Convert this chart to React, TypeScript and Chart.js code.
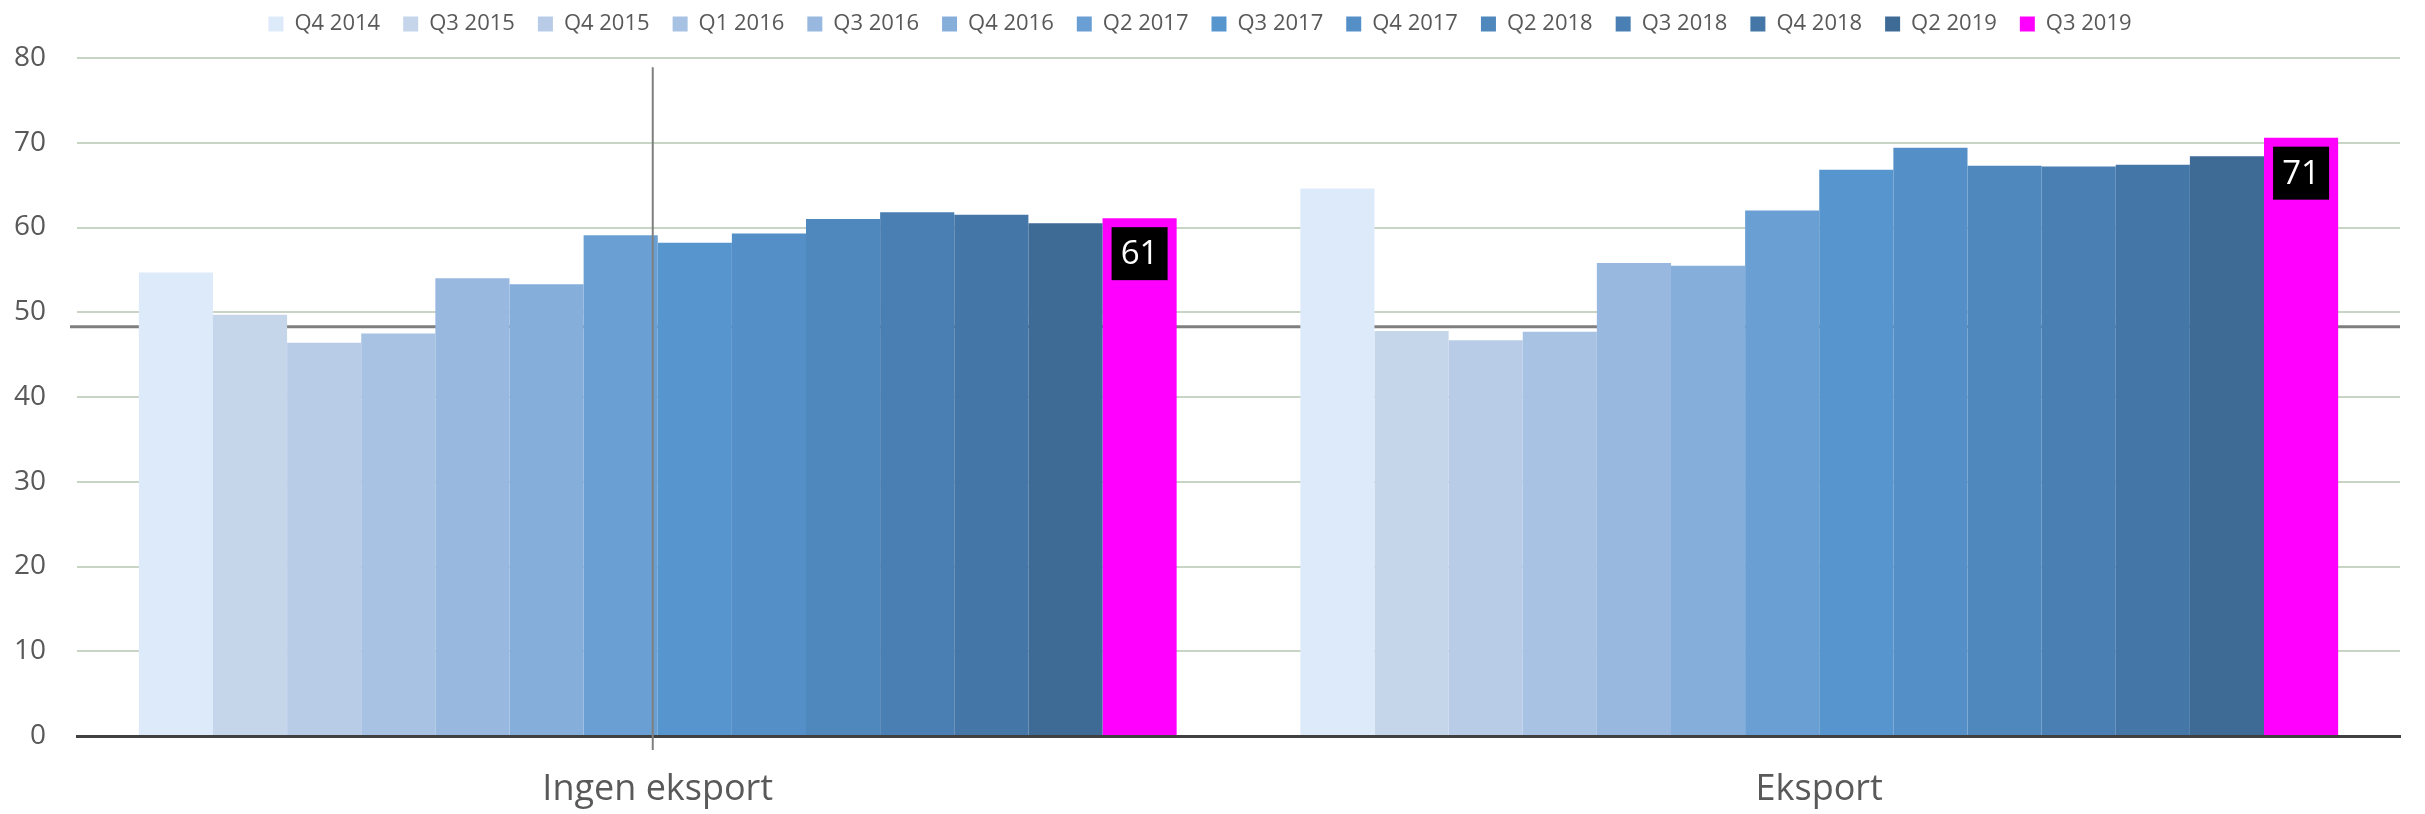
import React, { useEffect, useRef } from "react";
import { Chart, registerables } from "chart.js";

Chart.register(...registerables);

const categories = ["Ingen eksport", "Eksport"];
const seriesLabels = [
  "Q4 2014", "Q3 2015", "Q4 2015", "Q1 2016", "Q3 2016", "Q4 2016", "Q2 2017",
  "Q3 2017", "Q4 2017", "Q2 2018", "Q3 2018", "Q4 2018", "Q2 2019", "Q3 2019",
];
const ingenEksport = [54.7, 49.7, 46.4, 47.5, 54.0, 53.3, 59.1, 58.2, 59.3, 61.0, 61.8, 61.5, 60.5, 61.1];
const eksport = [64.6, 47.8, 46.7, 47.7, 55.8, 55.5, 62.0, 66.8, 69.4, 67.3, 67.2, 67.4, 68.4, 70.6];
const seriesColors = [
  "#DDEAFA", "#C5D5EA", "#B8CCE8", "#A8C2E3", "#98B8DF", "#86AEDB", "#6A9FD4",
  "#5795CE", "#548FC7", "#4F88BC", "#497FB2", "#4477A7", "#3E6A96", "#FF00FF",
];
const yMin = 0;
const yMax = 80;
const yStep = 10;
const referenceLevel = 48.3;
const verticalMarkerTop = 78.9;
const labelledSeries = "Q3 2019";

const FONT = '"Open Sans", "DejaVu Sans", sans-serif';

const legendSpacer = {
  id: "legendSpacer",
  beforeLayout(chart: any) {
    const lg = chart.legend;
    if (lg && !lg._spacerPatched) {
      const orig = lg.fit.bind(lg);
      lg.fit = function () {
        orig();
        this.height += 13;
      };
      lg._spacerPatched = true;
    }
  },
};

const overlayPlugin = {
  id: "overlayLines",
  beforeDatasetsDraw(chart: any) {
    const { ctx, chartArea, scales } = chart;
    const y = scales.y.getPixelForValue(referenceLevel);
    ctx.save();
    ctx.strokeStyle = "#7F7F7F";
    ctx.lineWidth = 3;
    ctx.beginPath();
    ctx.moveTo(chartArea.left - 7, y);
    ctx.lineTo(chartArea.right, y);
    ctx.stroke();
    ctx.restore();
  },
  afterDatasetsDraw(chart: any) {
    const { ctx, chartArea, scales } = chart;
    const x = scales.x.getPixelForValue(0) - 5;
    const yTop = scales.y.getPixelForValue(verticalMarkerTop);
    ctx.save();
    ctx.strokeStyle = "#7F7F7F";
    ctx.lineWidth = 2;
    ctx.beginPath();
    ctx.moveTo(x, yTop);
    ctx.lineTo(x, chartArea.bottom + 14);
    ctx.stroke();
    ctx.restore();

    const dsIndex = chart.data.datasets.findIndex((d: any) => d.label === labelledSeries);
    if (dsIndex < 0) return;
    const meta = chart.getDatasetMeta(dsIndex);
    const data = chart.data.datasets[dsIndex].data as number[];
    meta.data.forEach((bar: any, i: number) => {
      const w = 56;
      const h = 53;
      const top = bar.y + 9;
      ctx.save();
      ctx.fillStyle = "#000000";
      ctx.fillRect(bar.x - w / 2, top, w, h);
      ctx.fillStyle = "#FFFFFF";
      ctx.font = `33px ${FONT}`;
      ctx.textAlign = "center";
      ctx.textBaseline = "middle";
      ctx.fillText(String(Math.round(data[i])), bar.x, top + h / 2 + 1);
      ctx.restore();
    });
  },
};

export default function App() {
  const canvasRef = useRef<HTMLCanvasElement | null>(null);

  useEffect(() => {
    if (!canvasRef.current) return;
    const datasets = seriesLabels.map((label, i) => ({
      label,
      data: [ingenEksport[i], eksport[i]],
      backgroundColor: seriesColors[i],
      borderWidth: 0,
      categoryPercentage: 0.8935,
      barPercentage: 1,
    }));
    const chart = new Chart(canvasRef.current, {
      type: "bar",
      data: { labels: categories, datasets },
      options: {
        animation: false,
        responsive: false,
        maintainAspectRatio: false,
        devicePixelRatio: 1,
        layout: { padding: { top: -10, right: 25, left: 0, bottom: 0 } },
        plugins: {
          legend: {
            position: "top",
            labels: {
              boxWidth: 15,
              boxHeight: 15,
              padding: 23,
              color: "#595959",
              font: { family: FONT, size: 22 },
            },
          },
          tooltip: { enabled: false },
        },
        scales: {
          x: {
            grid: { display: false, drawTicks: false },
            border: { display: true, color: "#404040", width: 3 },
            ticks: { color: "#595959", font: { family: FONT, size: 36 }, padding: 32 },
            afterFit: (scale: any) => {
              scale.height = 78;
            },
          },
          y: {
            min: yMin,
            max: yMax,
            ticks: { stepSize: yStep, color: "#595959", font: { family: FONT, size: 28 }, padding: 31 },
            grid: { color: "#C8D5C5", lineWidth: 2, drawTicks: false },
            border: { display: false },
            afterFit: (scale: any) => {
              scale.width = 77;
            },
          },
        },
      },
      plugins: [legendSpacer, overlayPlugin],
    });
    return () => chart.destroy();
  }, []);

  return (
    <div style={{ position: "fixed", left: 0, top: 0, width: 2425, height: 814, background: "#FFFFFF" }}>
      <canvas ref={canvasRef} width={2425} height={814} style={{ display: "block" }} />
    </div>
  );
}
